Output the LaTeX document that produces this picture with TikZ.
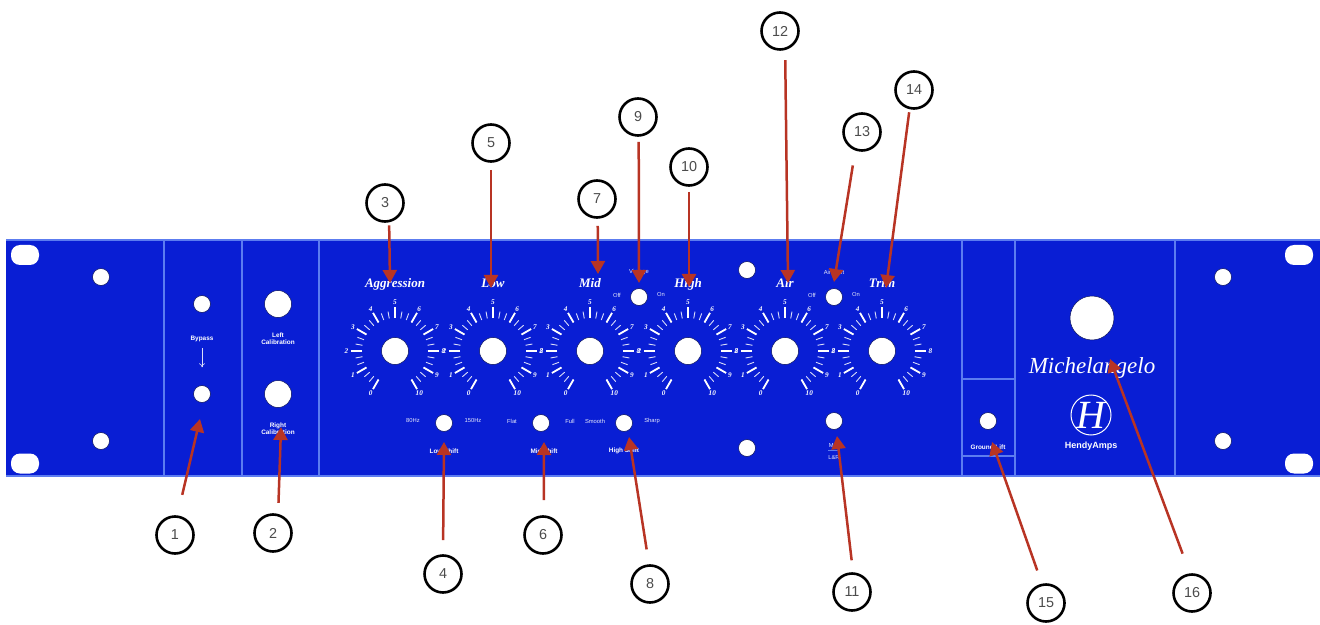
\documentclass[tikz,border=0pt]{standalone}
\usepackage{fontspec}
\setmainfont{Liberation Sans}
\newfontfamily\fancyfont{Liberation Serif}
\usetikzlibrary{arrows.meta}
\definecolor{panelblue}{RGB}{9,30,212}
\definecolor{seamblue}{RGB}{92,124,240}
\definecolor{pointerred}{RGB}{184,52,36}
\definecolor{holeedge}{RGB}{6,14,90}
\begin{document}
\begin{tikzpicture}[x=0.5pt,y=-0.5pt]
	% one unit is one pixel of the reference, y runs downwards
	\def\dialrow{351}
	% node style definition
	\tikzstyle{hole} = [circle, fill=white, draw=holeedge, line width=0.25pt, inner sep=0, minimum size=8.5pt];
	\tikzstyle{knob} = [hole, minimum size=13.5pt];
	\tikzstyle{slot} = [rectangle, rounded corners=4.5pt, fill=white, inner sep=0, minimum width=14pt, minimum height=10pt];
	\tikzstyle{small} = [text=white!90!panelblue, inner sep=0, font=\fontsize{2.9}{3.2}\selectfont, align=center];
	\tikzstyle{boldsmall} = [small, text=white, font=\fontsize{3.2}{3.4}\selectfont\bfseries];
	\tikzstyle{fancy} = [text=white, inner sep=0, anchor=base, font=\fontsize{6.5}{8}\fancyfont\bfseries\itshape];
	\tikzstyle{callout} = [circle, draw=black, line width=1.3pt, fill=white, text=black!70, inner sep=0, minimum size=18.5pt, font=\fontsize{7.2}{9}\selectfont];
	\tikzstyle{pointer} = [draw=pointerred, line width=1.25pt, -{Triangle[length=6.5pt,width=7pt]}];
	\useasboundingbox (0,0) rectangle (1320,625);
	% panel and section lines
	\fill[panelblue] (6,240) rectangle (1320,476);
	\draw[seamblue, line width=0.6pt] (6,240) -- (1320,240) (6,476) -- (1320,476);
	\foreach \x in {164,242,319,962,1015,1175} {
		\draw[seamblue, line width=0.6pt] (\x,240) -- (\x,476);
	}
	\draw[seamblue, line width=0.6pt] (962,379) -- (1015,379) (962,456) -- (1015,456);
	% rack slots
	\foreach \name/\x/\y in {tl/25/255,bl/25/463.5,tr/1299/255,br/1299/463.5} {
		\node[slot] (slot\name) at (\x,\y) {};
	}
	% holes and switches
	\foreach \name/\x/\y in {ma/101/277,mb/101/441,mc/1223/277,md/1223/441,bypassup/202/304,bypassdn/202/394,lowshift/444/423,midshift/541/423,highshift/624/423,vintage/639/297,airshift/834/297,ms/834/421,sa/747/270,sb/747/448,ground/988/421} {
		\node[hole] (\name) at (\x,\y) {};
	}
	\node[knob] (calleft) at (278,304) {};
	\node[knob] (calright) at (278,394) {};
	\node[hole, minimum size=22pt] (meter) at (1092,318) {};
	% dials with scale
	\foreach \name/\x/\title in {aggr/395/Aggression,low/493/Low,mid/590/Mid,high/688/High,air/785/Air,trim/882/Trim} {
		\node[knob] (\name) at (\x,\dialrow) {};
		\node[fancy] (title\name) at (\x,287) {\title};
		\foreach \a in {120,130,...,420} {
			\draw[white!85!panelblue, line width=0.45pt, shift={(\x,\dialrow)}] (\a:33) -- (\a:40);
		}
		\foreach \num in {0,...,10} {
			\pgfmathsetmacro{\a}{120+30*\num}
			\draw[white, line width=0.9pt, shift={(\x,\dialrow)}] (\a:33) -- (\a:44);
			\node[small, text=white, font=\fontsize{3.6}{4}\fancyfont\bfseries\itshape] (tick\name\num) at ([shift={(\x,\dialrow)}]\a:48.5) {\num};
		}
	}
	% small texts
	\foreach \name/\x/\y/\txt in {bypasslbl/202/339/Bypass,callbl/278/339/Left\\Calibration,carlbl/278/429/Right\\Calibration,lowlbl/444/451/Low Shift,midlbl/544/451/Mid Shift,highlbl/624/451/High Shift,grdlbl/988/447/Ground Lift} {
		\node[boldsmall] (\name) at (\x,\y) {\txt};
	}
	\foreach \name/\x/\y/\txt in {vintlbl/639/272/Vintage,offa/617/295/Off,ona/661/295/On,airlbl/834/272/Air Shift,offb/812/295/Off,onb/856/295/On,hza/413/421/80Hz,hzb/473/421/150Hz,flat/512/421/Flat,full/570/421/Full,smooth/595/421/Smooth,sharp/652/421/Sharp,lrlbl/834/458/L\&R} {
		\node[small] (\name) at (\x,\y) {\txt};
	}
	\node[small] (mslbl) at (834,445) {M/S};
	\draw[seamblue, line width=0.3pt] (mslbl.south west) ++(0,3) -- ++(12,0);
	\draw[white!85!panelblue, line width=0.3pt, shorten <=3pt, shorten >=9pt, -{To[length=2pt,width=3pt]}] (bypasslbl) -- (bypassdn);
	% logo
	\node[fancy, font=\fontsize{11.5}{13}\fancyfont\itshape] (michel) at (1092,373) {Michelangelo};
	\node[circle, draw=white, line width=0.5pt, inner sep=0, minimum size=20pt] (logo) at (1091,415) {};
	\node[text=white, inner sep=0, font=\fontsize{20}{22}\fancyfont\itshape] (logoh) at (1091,415) {H};
	\node[boldsmall, font=\fontsize{4.5}{5}\selectfont\bfseries] (hendy) at (1091,446) {HendyAmps};
	% numbered callouts
	\foreach \num/\x/\y/\ang/\gap/\tipx/\tipy in {
		1/175/535/83/21/200/419,
		2/273/533/75/11/281/427,
		3/385/203/-78/3/390/283,
		4/443/574/90/14/444/442,
		5/491/143/-90/7/491/288,
		6/543/535/88/15/544/442,
		7/597/199/-88/7/598/274,
		8/650/584/93/15/629/437,
		9/638/117/-88/5/639/283,
		10/689/167/-90/5/689/287,
		11/852/592/87/12/837/436,
		12/780/31/-75/10/788/283,
		13/862/132/-110/15/834/282,
		14/914/90/-103/3/886/288,
		15/1046/603/102/14/992/442,
		16/1192/593/96/21/1110/359} {
		\node[callout] (call\num) at (\x,\y) {\num};
		\coordinate (tip\num) at (\tipx,\tipy);
		\draw[pointer, shorten <=\gap*0.5pt] (call\num.\ang) -- (tip\num);
	}
\end{tikzpicture}
\end{document}
